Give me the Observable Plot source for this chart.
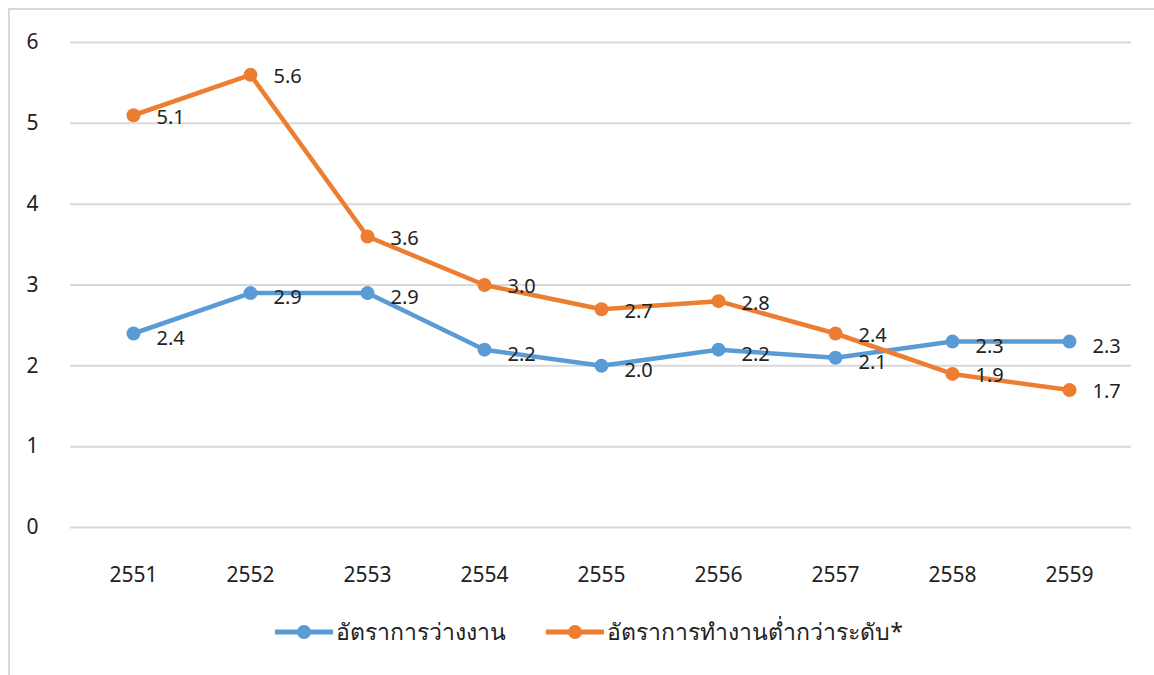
<!DOCTYPE html>
<html>
<head>
<meta charset="utf-8">
<script src="https://cdn.jsdelivr.net/npm/d3@7"></script>
<script src="https://cdn.jsdelivr.net/npm/@observablehq/plot@0.6"></script>
<style>
  body { margin: 0; background: #fff; font-family: "Noto Sans", "Open Sans", sans-serif; }
  #wrap { position: relative; width: 1154px; height: 675px; overflow: hidden; }
  #frame { position: absolute; left: 8px; top: 8px; width: 1200px; height: 700px; border-left: 2px solid #d9d9d9; border-top: 2px solid #d9d9d9; box-sizing: border-box; }
  #chart { position: absolute; left: 0; top: 0; }
  #legend { position: absolute; top: 614px; left: 0; width: 1154px; display: flex; justify-content: center; gap: 40px; font-size: 23px; color: #222; padding-left: 24px; box-sizing: border-box; }
  .item { display: flex; align-items: center; gap: 3px; }
</style>
</head>
<body>
<div id="wrap">
  <div id="frame"></div>
  <div id="chart"></div>
  <div id="legend"></div>
</div>
<script>
const years = ["2551","2552","2553","2554","2555","2556","2557","2558","2559"];
const unemployment = [2.4, 2.9, 2.9, 2.2, 2.0, 2.2, 2.1, 2.3, 2.3];
const underemployment = [5.1, 5.6, 3.6, 3.0, 2.7, 2.8, 2.4, 1.9, 1.7];
const seriesNames = ["อัตราการว่างงาน", "อัตราการทำงานต่ำกว่าระดับ*"];
const seriesColors = ["#5B9BD5", "#ED7D31"];
const yTicks = [0, 1, 2, 3, 4, 5, 6];

const data = [];
years.forEach((y, i) => {
  data.push({year: y, value: unemployment[i], series: seriesNames[0]});
  data.push({year: y, value: underemployment[i], series: seriesNames[1]});
});

const chart = Plot.plot({
  width: 1154,
  height: 600,
  marginTop: 42,
  marginBottom: 73,
  marginLeft: 70,
  marginRight: 23,
  style: {fontFamily: "'Noto Sans', 'Open Sans', sans-serif", fontSize: "21px", color: "#222", background: "transparent"},
  x: {type: "point", domain: years, padding: 0.5, label: null},
  y: {domain: [0, 6], label: null},
  color: {domain: seriesNames, range: seriesColors},
  marks: [
    Plot.gridY(yTicks, {stroke: "#d9d9d9", strokeOpacity: 1, strokeWidth: 2}),
    Plot.axisY(yTicks, {tickSize: 0, tickPadding: 32, fontSize: 21, tickFormat: d => String(d)}),
    Plot.axisX({tickSize: 0, tickPadding: 40, fontSize: 21}),
    Plot.line(data, {x: "year", y: "value", z: "series", stroke: "series", strokeWidth: 4.5}),
    Plot.dot(data, {x: "year", y: "value", fill: "series", r: 7}),
    Plot.text(data.filter(d => d.series === seriesNames[0]), {x: "year", y: "value", text: d => d.value.toFixed(1), dx: 23, dy: 5, textAnchor: "start", fontSize: 20, fill: "#222"}),
    Plot.text(data.filter(d => d.series === seriesNames[1]), {x: "year", y: "value", text: d => d.value.toFixed(1), dx: 23, dy: 2, textAnchor: "start", fontSize: 20, fill: "#222"})
  ]
});
document.getElementById("chart").appendChild(chart);

const legend = document.getElementById("legend");
seriesNames.forEach((name, i) => {
  const item = document.createElement("div");
  item.className = "item";
  item.innerHTML = `<svg width="58" height="20"><line x1="0" y1="10" x2="58" y2="10" stroke="${seriesColors[i]}" stroke-width="5"/><circle cx="29" cy="10" r="7" fill="${seriesColors[i]}"/></svg><span>${name}</span>`;
  legend.appendChild(item);
});
</script>
</body>
</html>
